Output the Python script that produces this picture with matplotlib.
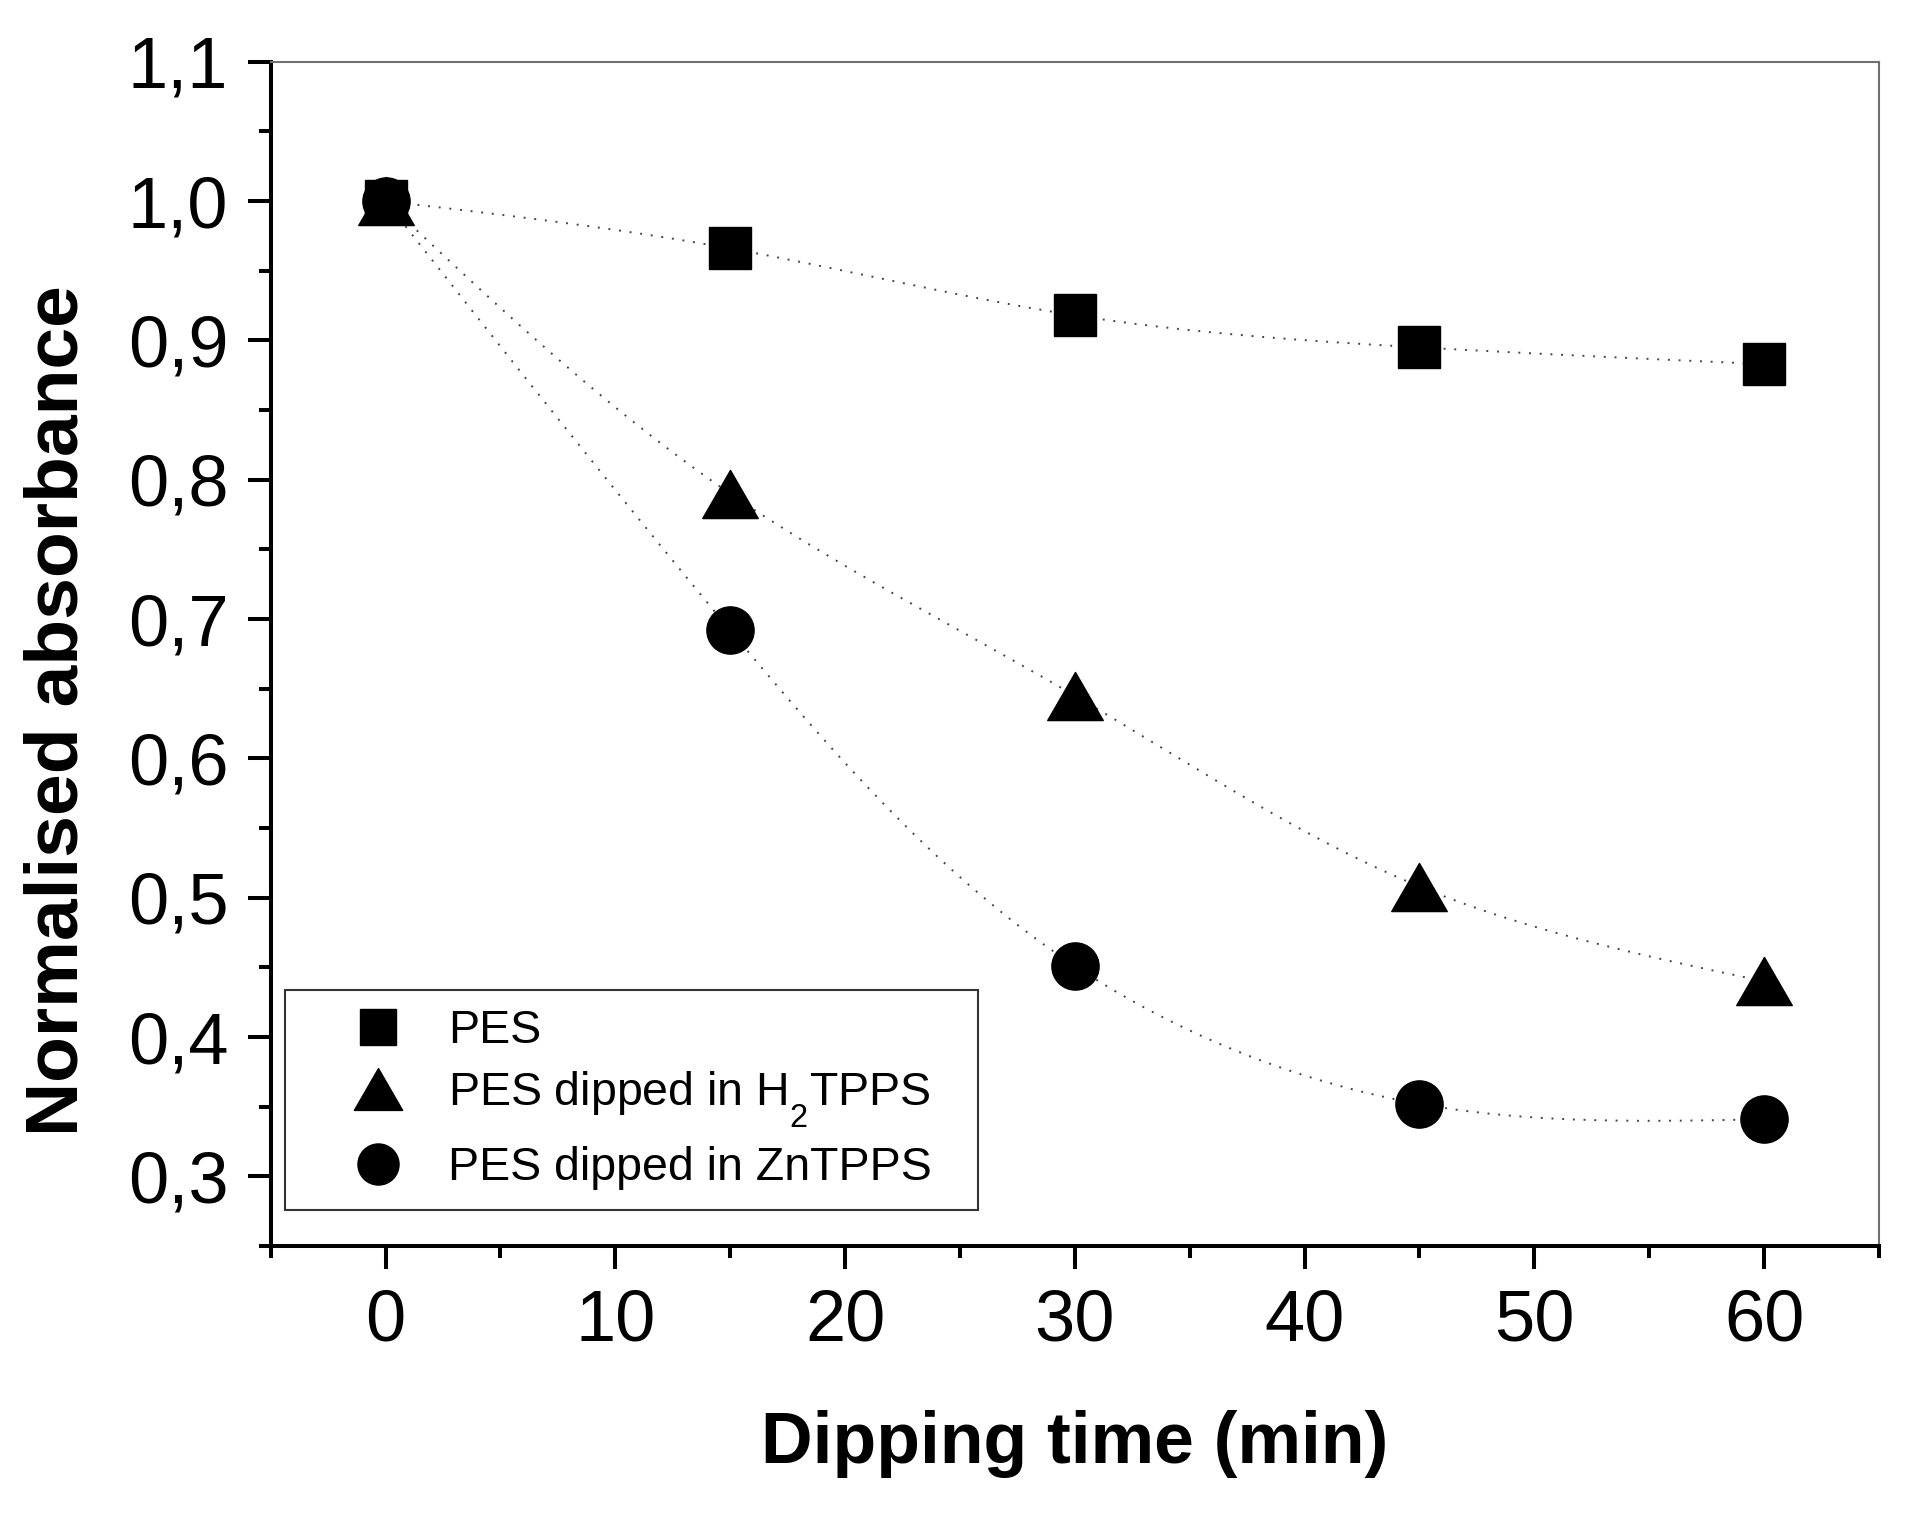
import numpy as np
import matplotlib
matplotlib.use("agg")
import matplotlib.pyplot as plt
from matplotlib.path import Path
from matplotlib.ticker import MultipleLocator, FuncFormatter

plt.rcParams['font.family'] = ['Liberation Sans', 'DejaVu Sans']
plt.rcParams['mathtext.fontset'] = 'custom'
plt.rcParams['mathtext.rm'] = 'Liberation Sans'
plt.rcParams['mathtext.default'] = 'regular'

# deeper subscript, like the H2 in the original legend
try:
    import matplotlib._mathtext as _mt

    class _SubConstants(_mt.FontConstantsBase):
        sub1 = 0.9
        subdrop = 0.85

    _mt._font_constant_mapping['Liberation Sans'] = _SubConstants
except Exception:
    pass

# dipping time (min) and normalised absorbance
time_min = [0, 15, 30, 45, 60]
pes = [1.0, 0.966, 0.918, 0.895, 0.883]
pes_h2tpps = [1.0, 0.79, 0.645, 0.508, 0.44]
pes_zntpps = [1.0, 0.692, 0.451, 0.352, 0.341]
labels = ["PES", "PES dipped in H$_2$TPPS", "PES dipped in ZnTPPS"]

xlim = (-5, 65)
ylim = (0.25, 1.1)


def natural_spline(t, v, ts):
    t = np.asarray(t, float)
    v = np.asarray(v, float)
    n = len(t)
    h = np.diff(t)
    A = np.zeros((n, n))
    r = np.zeros(n)
    A[0, 0] = A[-1, -1] = 1
    for i in range(1, n - 1):
        A[i, i - 1] = h[i - 1]
        A[i, i] = 2 * (h[i - 1] + h[i])
        A[i, i + 1] = h[i]
        r[i] = 3 * ((v[i + 1] - v[i]) / h[i] - (v[i] - v[i - 1]) / h[i - 1])
    c = np.linalg.solve(A, r)
    b = (v[1:] - v[:-1]) / h - h * (2 * c[:-1] + c[1:]) / 3
    d = (c[1:] - c[:-1]) / (3 * h)
    idx = np.clip(np.searchsorted(t, ts) - 1, 0, n - 2)
    dt = ts - t[idx]
    return v[idx] + b[idx] * dt + c[idx] * dt ** 2 + d[idx] * dt ** 3


def smooth_line(x, y, w, h):
    # parametric spline in screen proportions (chord length parameter)
    px = (np.asarray(x, float) - xlim[0]) / (xlim[1] - xlim[0]) * w
    py = (np.asarray(y, float) - ylim[0]) / (ylim[1] - ylim[0]) * h
    t = np.concatenate([[0], np.cumsum(np.hypot(np.diff(px), np.diff(py)))])
    ts = np.linspace(0, t[-1], 500)
    sx = natural_spline(t, px, ts)
    sy = natural_spline(t, py, ts)
    return (sx / w * (xlim[1] - xlim[0]) + xlim[0],
            sy / h * (ylim[1] - ylim[0]) + ylim[0])


tri = Path([(0, 0.866), (-1, -0.866), (1, -0.866), (0, 0.866)],
           [Path.MOVETO, Path.LINETO, Path.LINETO, Path.CLOSEPOLY])

fig = plt.figure(figsize=(19.24, 15.14), dpi=100)
ax = fig.add_axes([0.1407, 0.1770, 0.8359, 0.7822])

for ys in (pes, pes_h2tpps, pes_zntpps):
    lx, ly = smooth_line(time_min, ys, 1608, 1184)
    ax.plot(lx, ly, color="#444444", lw=1.4, ls=(0, (1, 4.5)), zorder=2)

ax.plot(time_min, pes_zntpps, "o", color="black", ms=34, ls="none",
        label=labels[2], zorder=3)
ax.plot(time_min, pes_h2tpps, marker=tri, color="black", ms=40, ls="none",
        label=labels[1], zorder=3)
ax.plot(time_min, pes, "s", color="black", ms=30, ls="none",
        label=labels[0], zorder=4)

ax.set_xlim(*xlim)
ax.set_ylim(*ylim)
ax.xaxis.set_major_locator(MultipleLocator(10))
ax.xaxis.set_minor_locator(MultipleLocator(5))
ax.yaxis.set_major_locator(MultipleLocator(0.1))
ax.yaxis.set_minor_locator(MultipleLocator(0.05))
ax.yaxis.set_major_formatter(FuncFormatter(lambda v, p: f"{v:.1f}".replace(".", ",")))

ax.tick_params(which="major", direction="out", length=16.5, width=2.9,
               labelsize=52, pad=14, top=False, right=False)
ax.tick_params(which="minor", direction="out", length=8.5, width=2.9,
               top=False, right=False)

for s in ("left", "bottom"):
    ax.spines[s].set_linewidth(2.9)
    ax.spines[s].set_color("black")
for s in ("top", "right"):
    ax.spines[s].set_linewidth(1.5)
    ax.spines[s].set_color("#707070")

ax.set_xlabel("Dipping time (min)", fontsize=51.5, fontweight="bold")
ax.set_ylabel("Normalised absorbance", fontsize=54, fontweight="bold")
ax.xaxis.set_label_coords(0.5, -0.167)
ax.xaxis.label.set_va("center")
ax.yaxis.set_label_coords(-0.132, 0.452)
ax.yaxis.label.set_va("center")

handles, labs = ax.get_legend_handles_labels()
order = [2, 1, 0]
leg = ax.legend([handles[i] for i in order], [labs[i] for i in order],
                loc="lower left", bbox_to_anchor=(0.0089, 0.0304, 0.4309, 0.19),
                mode="expand", borderaxespad=0, fontsize=33.5, markerscale=0.87,
                borderpad=0.42, handlelength=3.14, handletextpad=-0.06,
                labelspacing=0.35, fancybox=False, framealpha=1,
                edgecolor="#333333", numpoints=1)
leg.get_frame().set_linewidth(1.5)

fig.savefig("out.png", dpi=100)
